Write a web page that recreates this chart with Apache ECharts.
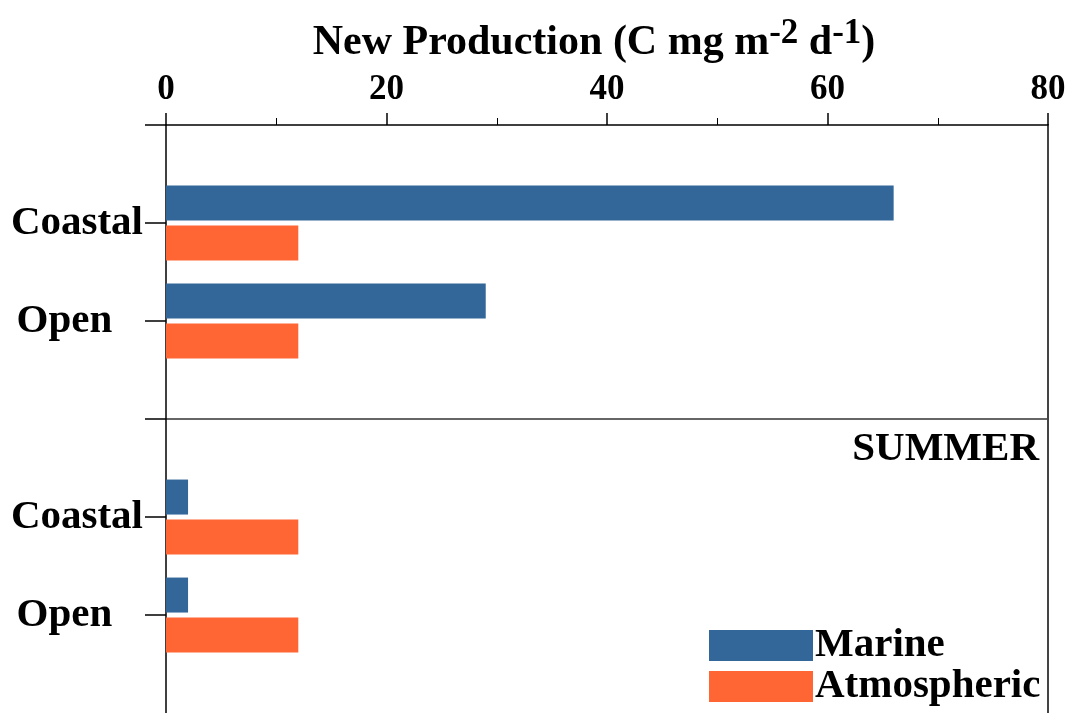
<!DOCTYPE html>
<html>
<head>
<meta charset="utf-8">
<script src="https://cdn.jsdelivr.net/npm/echarts@6/dist/echarts.min.js"></script>
<style>
  html, body { margin: 0; padding: 0; background: #fff; }
  #chart { width: 1077px; height: 713px; }
</style>
</head>
<body>
<div id="chart"></div>
<script>
// Sites shown in each panel (upper panel, then the SUMMER panel)
const upperSites = ['Coastal', 'Open'];
const summerSites = ['Coastal', 'Open'];

// New production, C mg m-2 d-1
const marineUpper = [66, 29];
const atmosphericUpper = [12, 12];
const marineSummer = [2, 2];
const atmosphericSummer = [12, 12];

// Value axis ticks
const xTicks = [0, 20, 40, 60, 80];

const SERIF = "'Liberation Serif', 'Times New Roman', serif";
const BLUE = '#336699';
const ORANGE = '#FF6633';

// Rows of the category axis: blank rows frame the two panels
const rows = [''].concat(upperSites, [''], summerSites, ['']);
function toRows(a, b) {
  return [null].concat(a, [null], b, [null]);
}

const chart = echarts.init(document.getElementById('chart'), null, { renderer: 'canvas' });

chart.setOption({
  animation: false,
  backgroundColor: '#ffffff',
  title: [
    {
      text: '{m|New Production (C mg m}{s|-2}{m| d}{s|-1}{m|)}',
      left: 594,
      top: 16,
      textAlign: 'center',
      padding: 0,
      textStyle: {
        rich: {
          m: { fontFamily: SERIF, fontWeight: 'bold', fontSize: 42, lineHeight: 55, color: '#000' },
          s: { fontFamily: SERIF, fontWeight: 'bold', fontSize: 35, lineHeight: 35, verticalAlign: 'top', color: '#000' }
        }
      }
    },
    {
      text: 'SUMMER',
      right: 38,
      top: 429,
      padding: 0,
      textStyle: { fontFamily: SERIF, fontWeight: 'bold', fontSize: 41, lineHeight: 41, color: '#000' }
    }
  ],
  legend: {
    orient: 'vertical',
    left: 709,
    top: 625,
    height: 120,
    padding: 0,
    itemGap: 0,
    itemWidth: 104,
    itemHeight: 31,
    icon: 'rect',
    textStyle: { fontFamily: SERIF, fontWeight: 'bold', fontSize: 41, color: '#000', padding: [0, 0, 0, -3] },
    data: ['Marine', 'Atmospheric']
  },
  grid: {
    left: 166,
    right: 29,
    top: 125,
    bottom: 0,
    containLabel: false
  },
  xAxis: {
    type: 'value',
    position: 'top',
    min: xTicks[0],
    max: xTicks[xTicks.length - 1],
    interval: xTicks[1] - xTicks[0],
    axisLine: { show: true, lineStyle: { color: '#000', width: 1.5 } },
    axisTick: { show: true, length: 12, lineStyle: { color: '#000', width: 1.5 } },
    minorTick: { show: true, splitNumber: 2, length: 7, lineStyle: { color: '#000', width: 1 } },
    splitLine: { show: false },
    axisLabel: { fontFamily: SERIF, fontWeight: 'bold', fontSize: 35, color: '#000', margin: 18 }
  },
  yAxis: [
    {
      type: 'category',
      inverse: true,
      boundaryGap: false,
      data: rows,
      axisLine: { show: true, lineStyle: { color: '#000', width: 1.5 } },
      axisTick: {
        show: true,
        length: 21,
        interval: function (idx) { return idx < rows.length - 1; },
        lineStyle: { color: '#000', width: 1.5 }
      },
      splitLine: {
        show: true,
        interval: function (idx) { return idx === upperSites.length + 1; },
        lineStyle: { color: '#333', width: 1.5 }
      },
      axisLabel: {
        interval: 0,
        margin: 23,
        fontFamily: SERIF,
        fontWeight: 'bold',
        fontSize: 41,
        color: '#000',
        formatter: function (v) { return v === 'Open' ? 'Open   ' : v; }
      }
    },
    {
      // right-hand frame line
      type: 'category',
      position: 'right',
      inverse: true,
      boundaryGap: false,
      data: rows,
      axisLine: { show: true, lineStyle: { color: '#444', width: 2 } },
      axisTick: { show: false },
      axisLabel: { show: false },
      splitLine: { show: false }
    }
  ],
  series: [
    {
      name: 'Marine',
      type: 'bar',
      data: toRows(marineUpper, marineSummer),
      barWidth: 35,
      barGap: '14%',
      itemStyle: { color: BLUE }
    },
    {
      name: 'Atmospheric',
      type: 'bar',
      data: toRows(atmosphericUpper, atmosphericSummer),
      barWidth: 35,
      barGap: '14%',
      itemStyle: { color: ORANGE }
    }
  ]
});
</script>
</body>
</html>
